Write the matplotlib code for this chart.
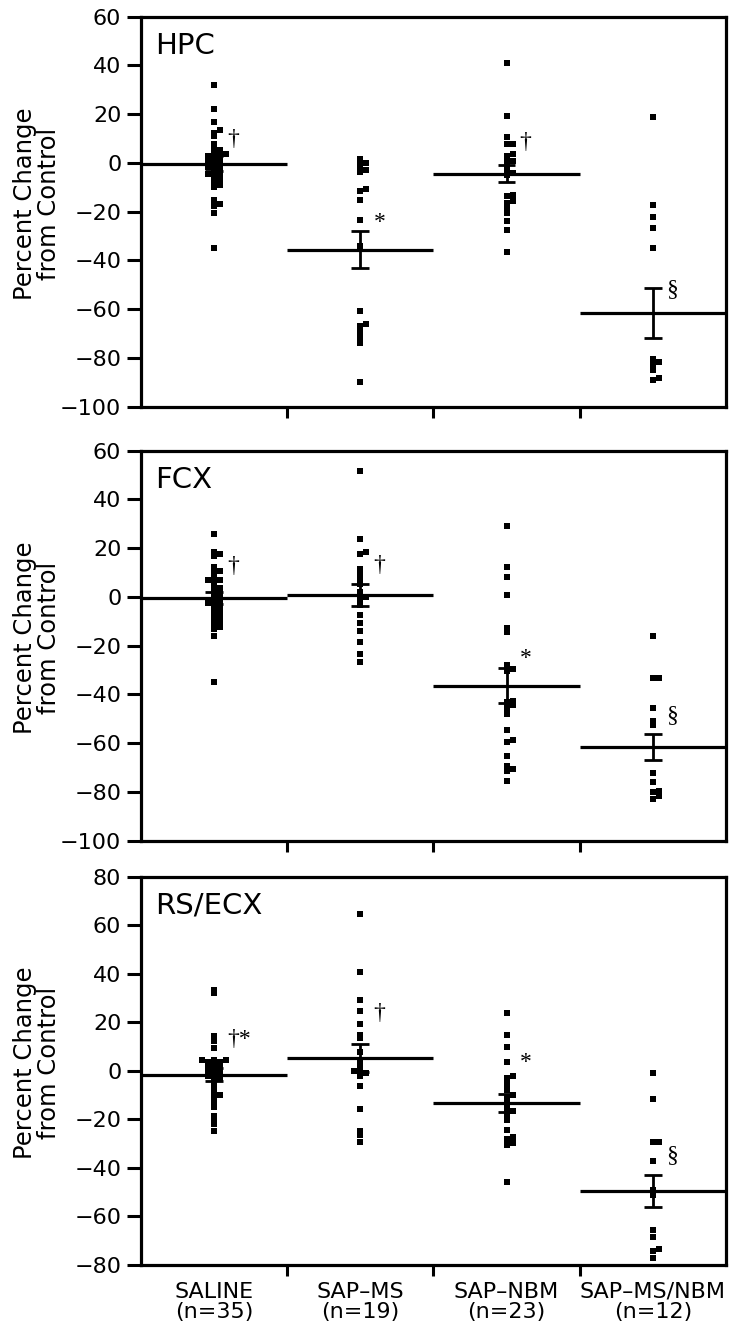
import numpy as np
import matplotlib
matplotlib.use("Agg")
import matplotlib.pyplot as plt

groups = ["SALINE\n(n=35)", "SAP–MS\n(n=19)", "SAP–NBM\n(n=23)", "SAP–MS/NBM\n(n=12)"]
regions = ["HPC", "FCX", "RS/ECX"]

# percent change from control, one list per group
hpc_saline = [32.0, 22.2, 16.8, 13.4, 12.3, 11.2, 7.9, 5.5, 5.5, 2.7, 2.7, 2.7, 1.4, -0.7, -2.5,
              -3.4, -4.4, -5.2, -6.8, -8.9, -9.7, -15.2, -16.8, -17.8, -20.5, -34.7, 0.5, -1.5,
              3.5, -5.5, -7.5, 4.0, -2.0, 1.0, -3.8]
hpc_ms = [1.6, 0.0, -1.8, -2.7, -3.7, -10.7, -11.6, -15.2, -23.3, -34.2, -60.6, -65.9, -66.8,
          -69.4, -71.1, -72.2, -73.9, -89.7, -0.5]
hpc_nbm = [41.0, 19.4, 10.7, 7.9, 7.9, 3.6, 2.7, 0.7, 0.0, -1.4, -2.7, -4.1, -13.0, -13.7, -15.7,
           -16.4, -18.9, -20.5, -23.9, -27.6, -36.5, -5.0, 1.5]
hpc_msnbm = [18.7, -17.1, -22.3, -26.8, -34.9, -81.7, -81.7, -80.5, -85.0, -88.1, -88.9, -83.0]

fcx_saline = [25.6, 18.5, 17.6, 16.7, 12.3, 10.5, 9.6, 7.5, 7.0, 6.8, 6.2, 2.7, 2.1, 1.0, -0.7,
              -2.7, -2.7, -3.7, -4.8, -6.8, -8.9, -10.3, -12.3, -13.0, -16.1, -34.9, 0.0, 3.5,
              -1.5, 5.0, -5.5, -7.5, -9.5, 1.5, -11.0]
fcx_ms = [51.6, 23.9, 18.5, 17.6, 11.6, 8.9, 6.4, 5.1, 2.1, 0.0, -1.0, -2.1, -3.4, -7.3, -10.9,
          -14.1, -18.7, -23.3, -26.7]
fcx_nbm = [29.1, 12.3, 8.2, 0.7, -12.7, -14.4, -28.0, -29.7, -30.5, -42.8, -43.0, -44.2, -45.0,
           -46.5, -48.2, -54.4, -58.8, -59.5, -65.3, -69.4, -70.7, -71.5, -75.6]
fcx_msnbm = [-16.1, -33.1, -33.1, -45.6, -50.8, -52.4, -72.2, -76.0, -79.5, -80.0, -81.8, -82.8]

rs_saline = [33.4, 32.0, 14.3, 12.3, 9.5, 4.5, 4.5, 4.5, 3.7, 2.0, 1.0, 0.4, -1.8, -2.0, -4.1,
             -5.2, -8.6, -9.9, -10.9, -12.3, -15.0, -18.7, -20.4, -21.8, -24.8, 3.0, -0.5, 1.5,
             -3.0, 2.5, -1.0, 0.5, -2.5, 3.5, -6.5]
rs_ms = [64.7, 40.7, 29.3, 24.8, 19.5, 15.0, 13.4, 8.0, 4.1, 2.0, 0.0, -0.5, -1.0, -2.0, -6.1,
         -15.9, -24.7, -26.6, -29.3]
rs_nbm = [23.8, 15.0, 9.8, 3.7, -2.0, -3.0, -4.4, -6.1, -7.9, -9.8, -10.9, -12.7, -14.0, -16.6,
          -16.6, -18.5, -20.4, -24.5, -27.2, -28.2, -29.6, -30.7, -45.9]
rs_msnbm = [-0.7, -11.6, -29.3, -29.3, -37.2, -49.0, -51.1, -65.5, -68.3, -73.3, -74.3, -77.0]

# group means and SEM
hpc_mean = [-0.3, -35.5, -4.4, -61.6]
hpc_sem = [3.0, 7.4, 3.5, 10.2]
fcx_mean = [-0.3, 0.7, -36.5, -61.6]
fcx_sem = [2.5, 4.6, 7.2, 5.4]
rs_mean = [-1.6, 5.2, -13.2, -49.5]
rs_sem = [2.7, 5.8, 3.6, 6.7]

# significance marks and the height they sit at
hpc_sig = ["†", "*", "†", "§"]
hpc_sig_y = [9.6, -24.6, 8.2, -52.0]
fcx_sig = ["†", "†", "*", "§"]
fcx_sig_y = [12.3, 13.0, -25.3, -48.6]
rs_sig = ["†*", "†", "*", "§"]
rs_sig_y = [12.9, 23.8, 3.4, -34.7]

yranges = [(-100, 60), (-100, 60), (-80, 80)]

panels = [
    ([hpc_saline, hpc_ms, hpc_nbm, hpc_msnbm], hpc_mean, hpc_sem, hpc_sig, hpc_sig_y),
    ([fcx_saline, fcx_ms, fcx_nbm, fcx_msnbm], fcx_mean, fcx_sem, fcx_sig, fcx_sig_y),
    ([rs_saline, rs_ms, rs_nbm, rs_msnbm], rs_mean, rs_sem, rs_sig, rs_sig_y),
]


def spread(vals, dy, dx):
    # simple swarm: push overlapping points sideways
    order = np.argsort(vals)
    offs = np.zeros(len(vals))
    placed = []
    for i in order:
        v = vals[i]
        k = 0
        while True:
            cands = [0.0] if k == 0 else [k * dx, -k * dx]
            ok = None
            for c in cands:
                if all(abs(v - py) >= dy or abs(c - po) >= dx * 0.9 for py, po in placed):
                    ok = c
                    break
            if ok is not None:
                offs[i] = ok
                placed.append((v, ok))
                break
            k += 1
    return offs


plt.rcParams['font.family'] = ['DejaVu Sans']
fig = plt.figure(figsize=(7.39, 13.38), dpi=100)
boxes = [(0.1904, 0.6960, 0.792, 0.2915),
         (0.1904, 0.3717, 0.792, 0.2915),
         (0.1904, 0.0546, 0.792, 0.2900)]

for p, (data, means, sems, sig, sig_y) in enumerate(panels):
    ax = fig.add_axes(boxes[p])
    lo, hi = yranges[p]
    for g in range(4):
        vals = np.array(data[g])
        xs = g + 0.5 + spread(vals, 1.1, 0.042)
        ax.plot(xs, vals, 's', color='black', ms=3.9, mec='black', mew=0)
        # mean line across the whole group, SEM bar at the centre
        ax.hlines(means[g], g, g + 1, color='black', lw=2.3)
        ax.vlines(g + 0.5, means[g] - sems[g], means[g] + sems[g], color='black', lw=2)
        for yy in (means[g] - sems[g], means[g] + sems[g]):
            ax.hlines(yy, g + 0.44, g + 0.56, color='black', lw=2)
        ax.text(g + 0.59, sig_y[g], sig[g], fontsize=17, va='center', ha='left',
                family=['Liberation Serif', 'DejaVu Serif'])

    ax.set_xlim(0, 4)
    ax.set_ylim(lo, hi)
    ax.set_yticks(np.arange(lo, hi + 1, 20))
    ax.set_yticklabels([f"{t:d}".replace("-", "−") for t in range(lo, hi + 1, 20)])
    ax.set_xticks([1, 2, 3])
    ax.set_xticklabels([])
    ax.set_xticks([0.5, 1.5, 2.5, 3.5], minor=True)
    if p == 2:
        ax.set_xticklabels(groups, minor=True, fontsize=16, linespacing=1.0)
    ax.tick_params(axis='x', which='major', direction='out', length=8, width=2.2)
    ax.tick_params(axis='x', which='minor', length=0, pad=12)
    ax.tick_params(axis='y', direction='out', length=10, width=2.2, labelsize=16, pad=4)
    for s in ax.spines.values():
        s.set_linewidth(2.3)
    ax.text(0.024, 0.905, regions[p], transform=ax.transAxes, fontsize=21, va='baseline')
    ax.set_ylabel("Percent Change\nfrom Control", fontsize=17.5, linespacing=0.95)
    ax.yaxis.set_label_coords(-0.137, 0.52)

fig.savefig("out.png", dpi=100)
